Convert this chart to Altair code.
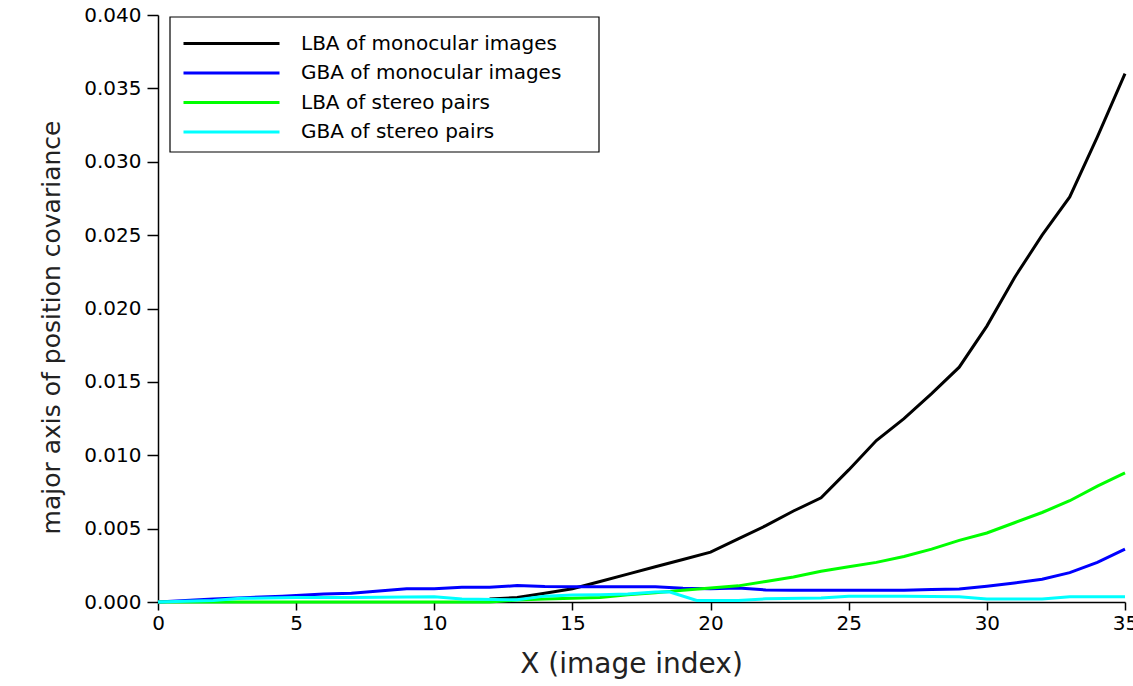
import altair as alt
import pandas as pd

series_names = ["LBA of monocular images", "GBA of monocular images",
                "LBA of stereo pairs", "GBA of stereo pairs"]
series_colors = ["#000000", "#0000ff", "#00ff00", "#00ffff"]

lba_mono_x = [12, 13, 14, 15, 16, 17, 18, 19, 20, 21, 22, 23, 24, 25, 26, 27, 28, 29, 30, 31, 32, 33, 34, 35]
lba_mono_y = [0.0002, 0.0003, 0.0006, 0.0009, 0.0014, 0.0019, 0.0024, 0.0029, 0.0034, 0.0043, 0.0052, 0.0062,
              0.0071, 0.0090, 0.0110, 0.0125, 0.0142, 0.0160, 0.0188, 0.0221, 0.0250, 0.0276, 0.0317, 0.0360]

gba_mono_x = [0, 2, 4.5, 6, 7, 8, 9, 10, 11, 12, 13, 14, 15, 16, 17, 18, 19, 20, 21, 22, 23, 24, 25, 26, 27,
              28, 29, 30, 31, 32, 33, 34, 35]
gba_mono_y = [0.0, 0.0002, 0.0004, 0.00055, 0.0006, 0.00075, 0.0009, 0.0009, 0.001, 0.001, 0.00112, 0.00105,
              0.00104, 0.00104, 0.00104, 0.00104, 0.00093, 0.0009, 0.00095, 0.00082, 0.0008, 0.0008, 0.0008,
              0.0008, 0.0008, 0.00086, 0.00088, 0.00108, 0.0013, 0.00155, 0.0020, 0.0027, 0.0036]

lba_stereo_x = [0, 12, 13, 14, 15, 16, 17, 18, 19, 20, 21, 22, 23, 24, 25, 26, 27, 28, 29, 30, 31, 32, 33, 34, 35]
lba_stereo_y = [0.0, 0.0, 0.00014, 0.0002, 0.00025, 0.0003, 0.0005, 0.00063, 0.0008, 0.00095, 0.0011, 0.0014,
                0.0017, 0.0021, 0.0024, 0.0027, 0.0031, 0.0036, 0.0042, 0.0047, 0.0054, 0.0061, 0.0069, 0.0079,
                0.0088]

gba_stereo_x = [0, 2, 3, 5, 7, 10, 11, 13, 14, 15, 16, 17, 18, 18.5, 19.5, 21, 22, 24, 25, 27, 29, 30, 32, 33, 35]
gba_stereo_y = [0.0, 0.0001, 0.00025, 0.0003, 0.0003, 0.00035, 0.0002, 0.00015, 0.0004, 0.00048, 0.0005,
                0.00055, 0.00068, 0.0007, 0.0001, 0.0001, 0.00022, 0.00028, 0.0004, 0.0004, 0.00036, 0.0002,
                0.0002, 0.00035, 0.00036]

x_ticks = [0, 5, 10, 15, 20, 25, 30, 35]
y_ticks = [0.0, 0.005, 0.010, 0.015, 0.020, 0.025, 0.030, 0.035, 0.040]

rows = []
for name, xs, ys in zip(series_names,
                        [lba_mono_x, gba_mono_x, lba_stereo_x, gba_stereo_x],
                        [lba_mono_y, gba_mono_y, lba_stereo_y, gba_stereo_y]):
    for i, (xv, yv) in enumerate(zip(xs, ys)):
        rows.append({"series": name, "x": xv, "y": yv, "i": i})
df = pd.DataFrame(rows)

FONT = "DejaVu Sans"

lines = alt.Chart(df).mark_line(strokeWidth=3).encode(
    x=alt.X("x:Q",
            scale=alt.Scale(domain=[0, 35], nice=False, zero=False),
            axis=alt.Axis(values=x_ticks, title="X (image index)", format="d", grid=False,
                          labelFlush=False, tickSize=8, labelPadding=3, titlePadding=17,
                          titleX=473, labelFontSize=20, titleFontSize=28)),
    y=alt.Y("y:Q",
            scale=alt.Scale(domain=[0, 0.04], nice=False),
            axis=alt.Axis(values=y_ticks, title="major axis of position covariance", format=".3f", grid=False,
                          labelFlush=False, tickSize=11, labelPadding=6, titlePadding=19,
                          titleY=312, labelFontSize=20, titleFontSize=25)),
    color=alt.Color("series:N",
                    scale=alt.Scale(domain=series_names, range=series_colors),
                    sort=series_names,
                    legend=alt.Legend(title=None, orient="none", legendX=12, legendY=3,
                                      padding=12,
                                      symbolType="M-1,0H7", symbolSize=576, symbolStrokeWidth=3,
                                      labelFont=FONT, labelFontSize=20, labelColor="black",
                                      labelLimit=500, rowPadding=5.5, labelOffset=92)),
    order=alt.Order("i:Q"),
)

# legend frame (opaque white box with black border behind the legend entries)
frame = alt.Chart(pd.DataFrame({"k": [0]})).mark_rect(
    fill="white", stroke="black", strokeWidth=1.2
).encode(
    x=alt.value(12), x2=alt.value(441), y=alt.value(2), y2=alt.value(137)
)

chart = alt.layer(lines, frame).properties(
    width=967, height=587,
    background="white",
    autosize=alt.AutoSizeParams(type="none"),
    padding={"left": 158, "top": 15, "right": 8, "bottom": 84},
).configure_view(stroke=None).configure_axis(
    grid=False, domainColor="black", tickColor="black", labelColor="black", titleColor="#222222",
    labelFont=FONT, titleFont=FONT, titleFontWeight="normal", domainWidth=1.5, tickWidth=1.5,
)

chart.save("out.html", embed_options={"renderer": "svg", "actions": False})
